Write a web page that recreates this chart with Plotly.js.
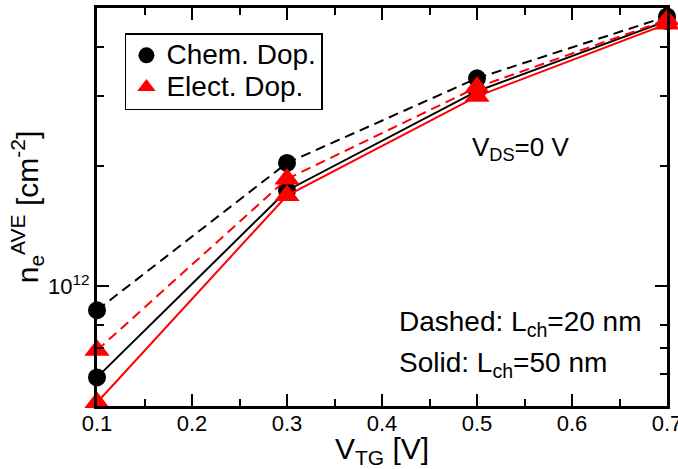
<!DOCTYPE html>
<html>
<head>
<meta charset="utf-8">
<script src="https://cdn.plot.ly/plotly-3.0.1.min.js"></script>
<style>
  html, body { margin: 0; padding: 0; background: #fff; }
  #chart { width: 678px; height: 469px; }
</style>
</head>
<body>
<div id="chart"></div>
<script>
// Top-gate voltage (V)
const vtg = [0.1, 0.3, 0.5, 0.7];

// Average electron density (cm^-2)
const chemL20 = [0.87e12, 2.04e12, 3.33e12, 4.76e12];   // chemical doping, Lch = 20 nm
const chemL50 = [0.59e12, 1.74e12, 3.09e12, 4.64e12];   // chemical doping, Lch = 50 nm
const electL20 = [0.69e12, 1.86e12, 3.16e12, 4.67e12];  // electrostatic doping, Lch = 20 nm
const electL50 = [0.51e12, 1.69e12, 3.00e12, 4.56e12];  // electrostatic doping, Lch = 50 nm

// Axis ticks
const xTicks = [0.1, 0.2, 0.3, 0.4, 0.5, 0.6, 0.7];
const xTickText = ['0.1', '0.2', '0.3', '0.4', '0.5', '0.6', '0.7'];
const yTicks = [1e12];
const yTickText = ['10<sup>12</sup>'];
const yMinorTicks = [6e11, 7e11, 8e11, 2e12, 3e12, 4e12];

const FONT = 'Liberation Sans, Arial, Helvetica, sans-serif';
const RED = '#ff0000';
const BLACK = '#000000';
const DASH = '10px,6px';

function series(y, color, symbol, size, dash) {
  return {
    x: vtg, y: y, type: 'scatter', mode: 'lines+markers',
    line: { color: color, width: 2, dash: dash },
    marker: { color: color, symbol: symbol, size: size },
    cliponaxis: false, showlegend: false, hoverinfo: 'x+y'
  };
}

// legend label: larger glyphs on a compact row height
function legendLabel(s) {
  return '<span style="font-size:28px">' + s + '</span>';
}

const traces = [
  series(chemL20, BLACK, 'circle', 18, DASH),
  series(chemL50, BLACK, 'circle', 18, 'solid'),
  series(electL20, RED, 'triangle-up', 22, DASH),
  series(electL50, RED, 'triangle-up', 22, 'solid'),
  // legend entries (symbols only)
  { x: [null], y: [null], type: 'scatter', mode: 'markers', name: legendLabel('Chem. Dop.'),
    marker: { color: BLACK, symbol: 'circle', size: 18 } },
  { x: [null], y: [null], type: 'scatter', mode: 'markers', name: legendLabel('Elect. Dop.'),
    marker: { color: RED, symbol: 'triangle-up', size: 22 } }
];

const axisCommon = {
  showline: true, linecolor: BLACK, linewidth: 3, mirror: 'allticks',
  ticks: 'inside', ticklen: 12, tickwidth: 2, tickcolor: BLACK,
  showgrid: false, zeroline: false,
  ticklabeloverflow: 'allow',
  tickfont: { family: FONT, size: 22, color: BLACK }
};

const layout = {
  width: 678, height: 469,
  margin: { l: 97, r: 11, t: 8, b: 63 },
  paper_bgcolor: '#fff', plot_bgcolor: '#fff',
  font: { family: FONT, color: BLACK },
  showlegend: true,
  legend: {
    x: 0.049, y: 0.937, xanchor: 'left', yanchor: 'top',
    bgcolor: '#fff', bordercolor: BLACK, borderwidth: 1.5,
    font: { family: FONT, size: 22, color: BLACK },
    itemwidth: 30
  },
  xaxis: Object.assign({}, axisCommon, {
    range: [0.1, 0.7],
    tickmode: 'array', tickvals: xTicks, ticktext: xTickText,
    ticklabelstandoff: -4,
    minor: { dtick: 0.05, tick0: 0.1, ticks: 'inside', ticklen: 7, tickwidth: 2, tickcolor: BLACK },
    title: { text: 'V<sub>TG</sub> [V]', font: { family: FONT, size: 30, color: BLACK }, standoff: 2 }
  }),
  yaxis: Object.assign({}, axisCommon, {
    type: 'log',
    range: [Math.log10(5e11), Math.log10(5e12)],
    tickmode: 'array', tickvals: yTicks, ticktext: yTickText,
    minor: { tickmode: 'array', tickvals: yMinorTicks, ticks: 'inside', ticklen: 7, tickwidth: 2, tickcolor: BLACK },
    title: { text: 'n<sub>e</sub><sup>AVE</sup> [cm<sup>-2</sup>]', font: { family: FONT, size: 30, color: BLACK }, standoff: 0 }
  }),
  annotations: [
    { x: 0.5453, y: 0.646, xref: 'x', yref: 'paper', xanchor: 'center', yanchor: 'middle',
      text: 'V<sub>DS</sub>=0 V', showarrow: false, font: { family: FONT, size: 26, color: BLACK } },
    { x: 0.4158, y: 0.208, xref: 'x', yref: 'paper', xanchor: 'left', yanchor: 'middle',
      text: 'Dashed: L<sub>ch</sub>=20 nm', showarrow: false, font: { family: FONT, size: 28, color: BLACK } },
    { x: 0.4158, y: 0.105, xref: 'x', yref: 'paper', xanchor: 'left', yanchor: 'middle',
      text: 'Solid: L<sub>ch</sub>=50 nm', showarrow: false, font: { family: FONT, size: 28, color: BLACK } }
  ]
};

Plotly.newPlot('chart', traces, layout, { displayModeBar: false, staticPlot: true });
</script>
</body>
</html>
